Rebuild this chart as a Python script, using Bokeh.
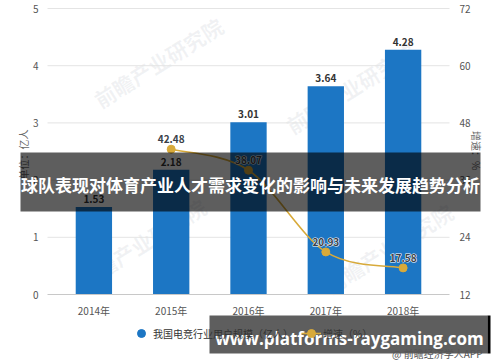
import math
import numpy as np
from bokeh.plotting import figure
from bokeh.models import (Range1d, LinearAxis, FixedTicker, Label, BoxAnnotation,
                          Legend, LegendItem, ColumnDataSource)
from bokeh.core.properties import value
from bokeh.embed import file_html
from bokeh.resources import INLINE

# ---------------- data ----------------
years = ["2014年", "2015年", "2016年", "2017年", "2018年"]
users = [1.53, 2.18, 3.01, 3.64, 4.28]
rate_years = ["2015年", "2016年", "2017年", "2018年"]
rates = [42.48, 38.07, 20.93, 17.58]
left_ticks = [0, 1, 2, 3, 4, 5]
right_ticks = [12, 24, 36, 48, 60, 72]
left_label = "单位：亿人"
right_label = "增速：%"
legend_labels = ["我国电竞行业用户规模（亿人）", "增速（%）"]
title_text = "球队表现对体育产业人才需求变化的影响与未来发展趋势分析"
site_text = "www.platforms-raygaming.com"
source_text = "@ 前瞻经济学人APP"
watermark_text = "前瞻产业研究院"

FONT = "Noto Sans CJK SC"
BLUE = "#1c76c4"
GOLD = "#d8aa3a"
W, H = 500, 362
# plotting area in canvas pixels
L_PX, R_PX, T_PX, B_PX = 47, 449, 8, 294
XMIN, XMAX = -0.6, len(years) - 1 + 0.6
YMIN, YMAX = left_ticks[0], left_ticks[-1]
RMIN, RMAX = right_ticks[0], right_ticks[-1]

xs_px = (R_PX - L_PX) / (XMAX - XMIN)
ys_px = (B_PX - T_PX) / (YMAX - YMIN)
rs_px = (B_PX - T_PX) / (RMAX - RMIN)
x_range = Range1d(XMIN - L_PX / xs_px, XMAX + (W - R_PX) / xs_px)
y_range = Range1d(YMIN - (H - B_PX) / ys_px, YMAX + T_PX / ys_px)
r_range = Range1d(RMIN - (H - B_PX) / rs_px, RMAX + T_PX / rs_px)

p = figure(width=W, height=H, x_range=x_range, y_range=y_range,
           output_backend="svg", toolbar_location=None,
           min_border=0, min_border_left=0, min_border_right=0,
           min_border_top=0, min_border_bottom=0)
p.extra_y_ranges = {"rate": r_range}
p.outline_line_color = None
p.background_fill_color = "white"
p.border_fill_color = "white"
p.xgrid.visible = False
p.ygrid.visible = False

# axes (library axes at fixed positions)
xs = list(range(len(years)))
xa = p.xaxis[0]
xa.fixed_location = YMIN
xa.bounds = (XMIN, XMAX)
xa.ticker = FixedTicker(ticks=xs)
xa.major_label_overrides = {i: y for i, y in enumerate(years)}
xa.axis_line_color = "#c8c8c8"
xa.major_tick_line_color = None
xa.minor_tick_line_color = None
xa.major_label_standoff = 2
xa.major_label_text_font = FONT
xa.major_label_text_font_size = "10px"
xa.major_label_text_color = "#555555"

ya = p.yaxis[0]
ya.fixed_location = XMIN
ya.ticker = FixedTicker(ticks=left_ticks)
ya.axis_line_color = None
ya.major_tick_line_color = None
ya.minor_tick_line_color = None
ya.major_label_standoff = 3
ya.major_label_text_font = FONT
ya.major_label_text_font_size = "10px"
ya.major_label_text_color = "#555555"

ra = LinearAxis(y_range_name="rate", ticker=FixedTicker(ticks=right_ticks), fixed_location=XMAX)
ra.axis_line_color = None
ra.major_tick_line_color = None
ra.minor_tick_line_color = None
ra.major_label_standoff = 4
ra.major_label_text_font = FONT
ra.major_label_text_font_size = "10px"
ra.major_label_text_color = "#555555"
p.add_layout(ra, "right")

# gridlines over the plotting area
gt = left_ticks[1:]
p.segment(x0=[XMIN] * len(gt), x1=[XMAX] * len(gt), y0=gt, y1=gt,
          line_color="#e4e4e4", line_width=1)

# axis titles
p.add_layout(Label(x=23, y=154, x_units="canvas", y_units="canvas", text=left_label,
                   angle=math.pi / 2, text_align="center", text_baseline="middle",
                   text_font=FONT, text_font_size="10px", text_color="#666666"))
p.add_layout(Label(x=476, y=150, x_units="canvas", y_units="canvas", text=right_label,
                   angle=-math.pi / 2, text_align="center", text_baseline="middle",
                   text_font=FONT, text_font_size="10px", text_color="#666666"))

# watermarks (faint)
for wx, wy in [(158, 62), (350, 88), (388, 248), (141, 243)]:
    p.add_layout(Label(x=wx, y=wy, x_units="canvas", y_units="canvas", text=watermark_text,
                       angle=0.56, text_align="center", text_baseline="middle",
                       text_font=FONT, text_font_size="21px", text_font_style="bold",
                       text_color="#8a96a4", text_alpha=0.12, level="underlay"))

# bars
bsrc = ColumnDataSource(dict(x=xs, top=users, lab=[f"{v:.2f}" for v in users]))
p.vbar(x="x", top="top", width=0.47, source=bsrc, fill_color=BLUE, line_color=None)
p.text(x="x", y="top", text="lab", source=bsrc, y_offset=-4, text_align="center",
       text_baseline="bottom", text_font=value(FONT), text_font_size="10px",
       text_font_style="bold", text_color="#333333")

# smooth line (Catmull-Rom -> cubic bezier) on right axis
rx = np.array([years.index(y) for y in rate_years], dtype=float)
ry = np.array(rates, dtype=float)
px_ = np.concatenate([[rx[0]], rx, [rx[-1]]])
py_ = np.concatenate([[ry[0]], ry, [ry[-1]]])
x0, y0 = px_[1:-2], py_[1:-2]
x1, y1 = px_[2:-1], py_[2:-1]
cx0 = x0 + (px_[2:-1] - px_[:-3]) / 6
cy0 = y0 + (py_[2:-1] - py_[:-3]) / 6
cx1 = x1 - (px_[3:] - px_[1:-2]) / 6
cy1 = y1 - (py_[3:] - py_[1:-2]) / 6
p.bezier(x0=x0, y0=y0, x1=x1, y1=y1, cx0=cx0, cy0=cy0, cx1=cx1, cy1=cy1,
         y_range_name="rate", line_color=GOLD, line_width=1.6)
lsrc = ColumnDataSource(dict(x=rx, y=ry, lab=[f"{v:.2f}" for v in rates]))
p.scatter(x="x", y="y", source=lsrc, size=8, fill_color=GOLD, line_color=GOLD, y_range_name="rate")
p.text(x="x", y="y", text="lab", source=lsrc, y_offset=-6, text_align="center",
       text_baseline="bottom", text_font=value(FONT), text_font_size="10px",
       text_font_style="bold", text_color="white", text_outline_color="white",
       y_range_name="rate")
p.text(x="x", y="y", text="lab", source=lsrc, y_offset=-6, text_align="center",
       text_baseline="bottom", text_font=value(FONT), text_font_size="10px",
       text_font_style="bold", text_color="#3a3f48", y_range_name="rate")

# legend (proxy renderers with no visible points)
nan = [float("nan")]
r1 = p.scatter(x=nan, y=nan, size=10, fill_color=BLUE, line_color=BLUE)
r2 = p.line(x=nan, y=nan, line_color=GOLD, line_width=1.6)
r3 = p.scatter(x=nan, y=nan, size=7, fill_color=GOLD, line_color=GOLD)
leg = Legend(items=[LegendItem(label=legend_labels[0], renderers=[r1]),
                    LegendItem(label=legend_labels[1], renderers=[r2, r3])],
             orientation="horizontal", location=(131, 18), border_line_color=None,
             background_fill_alpha=0, label_text_font=FONT, label_text_font_size="10px",
             label_text_color="#333333", glyph_width=20, glyph_height=22, spacing=8,
             label_standoff=2, padding=0, margin=0)
p.add_layout(leg)

# overlay banners
p.add_layout(BoxAnnotation(left=20, right=480, top=152, bottom=211,
                           left_units="canvas", right_units="canvas",
                           top_units="canvas", bottom_units="canvas",
                           fill_color="black", fill_alpha=0.63, line_color=None, level="overlay"))
p.add_layout(Label(x=250, y=184, x_units="canvas", y_units="canvas", text=title_text,
                   text_align="center", text_baseline="middle",
                   text_font=FONT, text_font_size="17px", text_font_style="bold",
                   text_color="white", level="overlay"))
p.add_layout(BoxAnnotation(left=209, right=487, top=315, bottom=353,
                           left_units="canvas", right_units="canvas",
                           top_units="canvas", bottom_units="canvas",
                           fill_color="black", fill_alpha=0.63, line_color=None, level="overlay"))
p.add_layout(BoxAnnotation(left=487, right=490, top=315, bottom=353,
                           left_units="canvas", right_units="canvas",
                           top_units="canvas", bottom_units="canvas",
                           fill_color="black", fill_alpha=1.0, line_color=None, level="overlay"))
p.add_layout(Label(x=349, y=338, x_units="canvas", y_units="canvas", text=site_text,
                   text_align="center", text_baseline="middle",
                   text_font="Open Sans", text_font_size="17px", text_font_style="bold",
                   text_color="white", level="overlay"))
p.add_layout(Label(x=482, y=353, x_units="canvas", y_units="canvas", text=source_text,
                   text_align="right", text_baseline="middle",
                   text_font=FONT, text_font_size="10px", text_color="#555555", level="overlay"))

open("out.html", "w").write(file_html(p, INLINE))
